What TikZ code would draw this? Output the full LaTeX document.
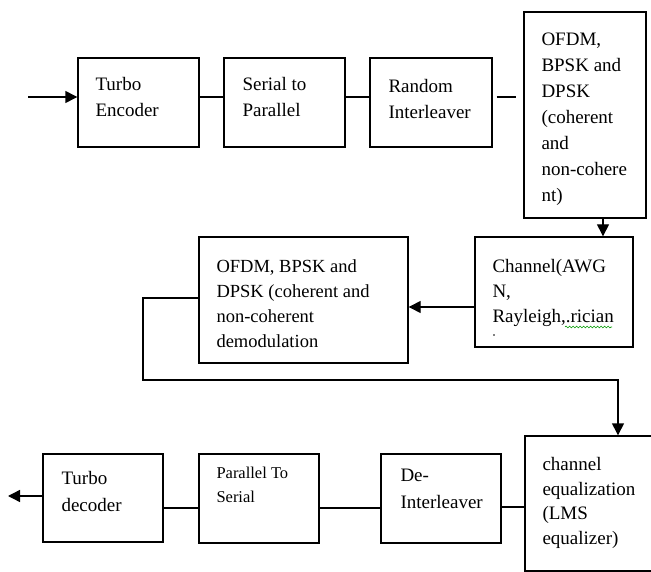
\documentclass[tikz,border=0pt]{standalone}
\usepackage{fontspec}
\setmainfont{Liberation Serif}
\usetikzlibrary{positioning,arrows.meta,decorations.pathmorphing}
\begin{document}
\begin{tikzpicture}[x=1pt, y=-1pt,
  blk/.style={draw, line width=1.4pt, rectangle, inner sep=0pt},
  txt/.style={inner sep=0pt, align=left, font=\fontsize{19}{26}\selectfont},
  wire/.style={line width=1.4pt},
  arr/.style={line width=1.4pt, -{Triangle[length=12pt,width=12pt]}}]
\useasboundingbox (0,0) rectangle (651,572);
\clip (0,0) rectangle (651,572);

\node (te) at (138.5,102.5) [blk, minimum width=121pt, minimum height=89pt] {};
\node (sp) at (284.5,102.5) [blk, minimum width=121pt, minimum height=89pt] {};
\node (ri) at (431,102.5) [blk, minimum width=122pt, minimum height=89pt] {};
\node (ofdm) at (585,115) [blk, minimum width=122pt, minimum height=206pt] {};
\node (ch) at (554,292) [blk, minimum width=158pt, minimum height=110pt] {};
\node (dem) at (303.5,300) [blk, minimum width=209pt, minimum height=126pt] {};
\node (ce) at (595,503.5) [blk, minimum width=140pt, minimum height=135pt] {};
\node (di) at (441,498.5) [blk, minimum width=120pt, minimum height=89pt] {};
\node (pts) at (259,498.5) [blk, minimum width=120pt, minimum height=89pt] {};
\node (td) at (103,498) [blk, minimum width=120pt, minimum height=88pt] {};

\node (te-t) [txt, below right=20pt and 18pt of te.north west] {Turbo\\Encoder};
\node (sp-t) [txt, below right=20pt and 19pt of sp.north west] {Serial to\\Parallel};
\node (ri-t) [txt, below right=22pt and 19pt of ri.north west] {Random\\Interleaver};
\node (ofdm-t) [txt, below right=21pt and 18pt of ofdm.north west] {OFDM,\\BPSK and\\DPSK\\(coherent\\and\\non-cohere\\nt)};
\node (ch-t) [txt, font=\fontsize{19}{25}\selectfont, below right=23pt and 18pt of ch.north west] {Channel(AWG\\N,\\Rayleigh,.rician};
\node (dem-t) [txt, font=\fontsize{18.5}{25}\selectfont, below right=23pt and 18pt of dem.north west] {OFDM, BPSK and\\DPSK (coherent and\\non-coherent\\demodulation};
\node (ce-t) [txt, font=\fontsize{19}{24.5}\selectfont, below right=22pt and 18pt of ce.north west] {channel\\equalization\\(LMS\\equalizer)};
\node (di-t) [txt, font=\fontsize{19}{27}\selectfont, below right=16pt and 20pt of di.north west] {De-\\Interleaver};
\node (pts-t) [txt, font=\fontsize{16.5}{24}\selectfont, below right=14pt and 18pt of pts.north west] {Parallel To\\Serial};
\node (td-t) [txt, font=\fontsize{19}{27}\selectfont, below right=18pt and 19pt of td.north west] {Turbo\\decoder};

\coordinate (in) at (28,97);
\coordinate (out) at (8,496);
\coordinate (fb1) at (143,380);
\coordinate (fb2) at (618,380);

\draw[arr] (in) -- ([yshift=5.5pt]te.west);
\draw[wire] ([yshift=5.5pt]te.east) -- ([yshift=5.5pt]sp.west);
\draw[wire] ([yshift=5.5pt]sp.east) -- ([yshift=5.5pt]ri.west);
\draw[wire, shorten <=4pt, shorten >=7pt] ([yshift=5.5pt]ri.east) -- ([yshift=18pt]ofdm.west);
\draw[arr] ([xshift=18pt]ofdm.south) -- ([xshift=49pt]ch.north);
\draw[arr] ([yshift=-15pt]ch.west) -- ([yshift=-7pt]dem.east);
\draw[arr] ([yshift=2pt]dem.west) -| (fb1) -- (fb2) -- (fb2 |- ce.north);
\draw[wire] ([yshift=-3.5pt]ce.west) -- ([yshift=-8.5pt]di.east);
\draw[wire] ([yshift=-9.5pt]di.west) -- ([yshift=-9.5pt]pts.east);
\draw[wire] ([yshift=-9.5pt]pts.west) -- ([yshift=-10pt]td.east);
\draw[arr] ([yshift=2pt]td.west) -- (out);

\draw[green!60!black, line width=0.6pt, decorate, decoration={snake, amplitude=0.9pt, segment length=3.5pt}] (565,327) -- (612,327);
\fill (494,335) circle (0.8pt);
\end{tikzpicture}
\end{document}
